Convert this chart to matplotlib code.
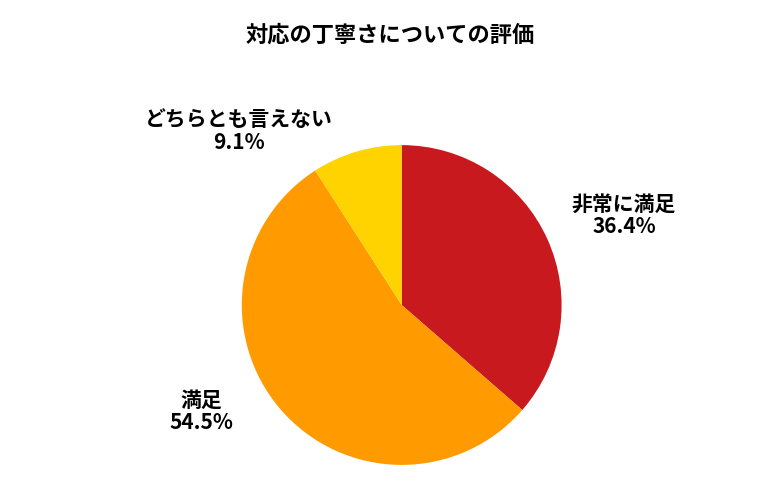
import matplotlib.pyplot as plt
import numpy as np

plt.rcParams['font.family'] = ['Noto Sans CJK JP', 'DejaVu Sans']

labels = ['非常に満足', '満足', 'どちらとも言えない']
values = [36.4, 54.5, 9.1]
colors = ['#C8191F', '#FF9A00', '#FFD300']

fig = plt.figure(figsize=(7.8, 5), dpi=100)
ax = fig.add_axes([0.310, 0.07, 0.41, 0.64])
wedges, _ = ax.pie(values, colors=colors, startangle=90, counterclock=False)
ax.set_xlim(-1, 1)
ax.set_ylim(-1, 1)
ax.set_aspect('equal')

# label placement (angle deg, distance in radius units)
label_pos = [(22, 1.50), (-152, 1.42), (133, 1.49)]
for lab, v, (ang, d) in zip(labels, values, label_pos):
    a = np.deg2rad(ang)
    ax.text(d * np.cos(a), d * np.sin(a), f'{lab}\n{v}%', ha='center', va='center',
            fontsize=15, fontweight='bold', linespacing=1.1, clip_on=False)

fig.text(0.5, 0.93, '対応の丁寧さについての評価', ha='center', va='center',
         fontsize=16, fontweight='bold')
fig.savefig('out.png', dpi=100)
